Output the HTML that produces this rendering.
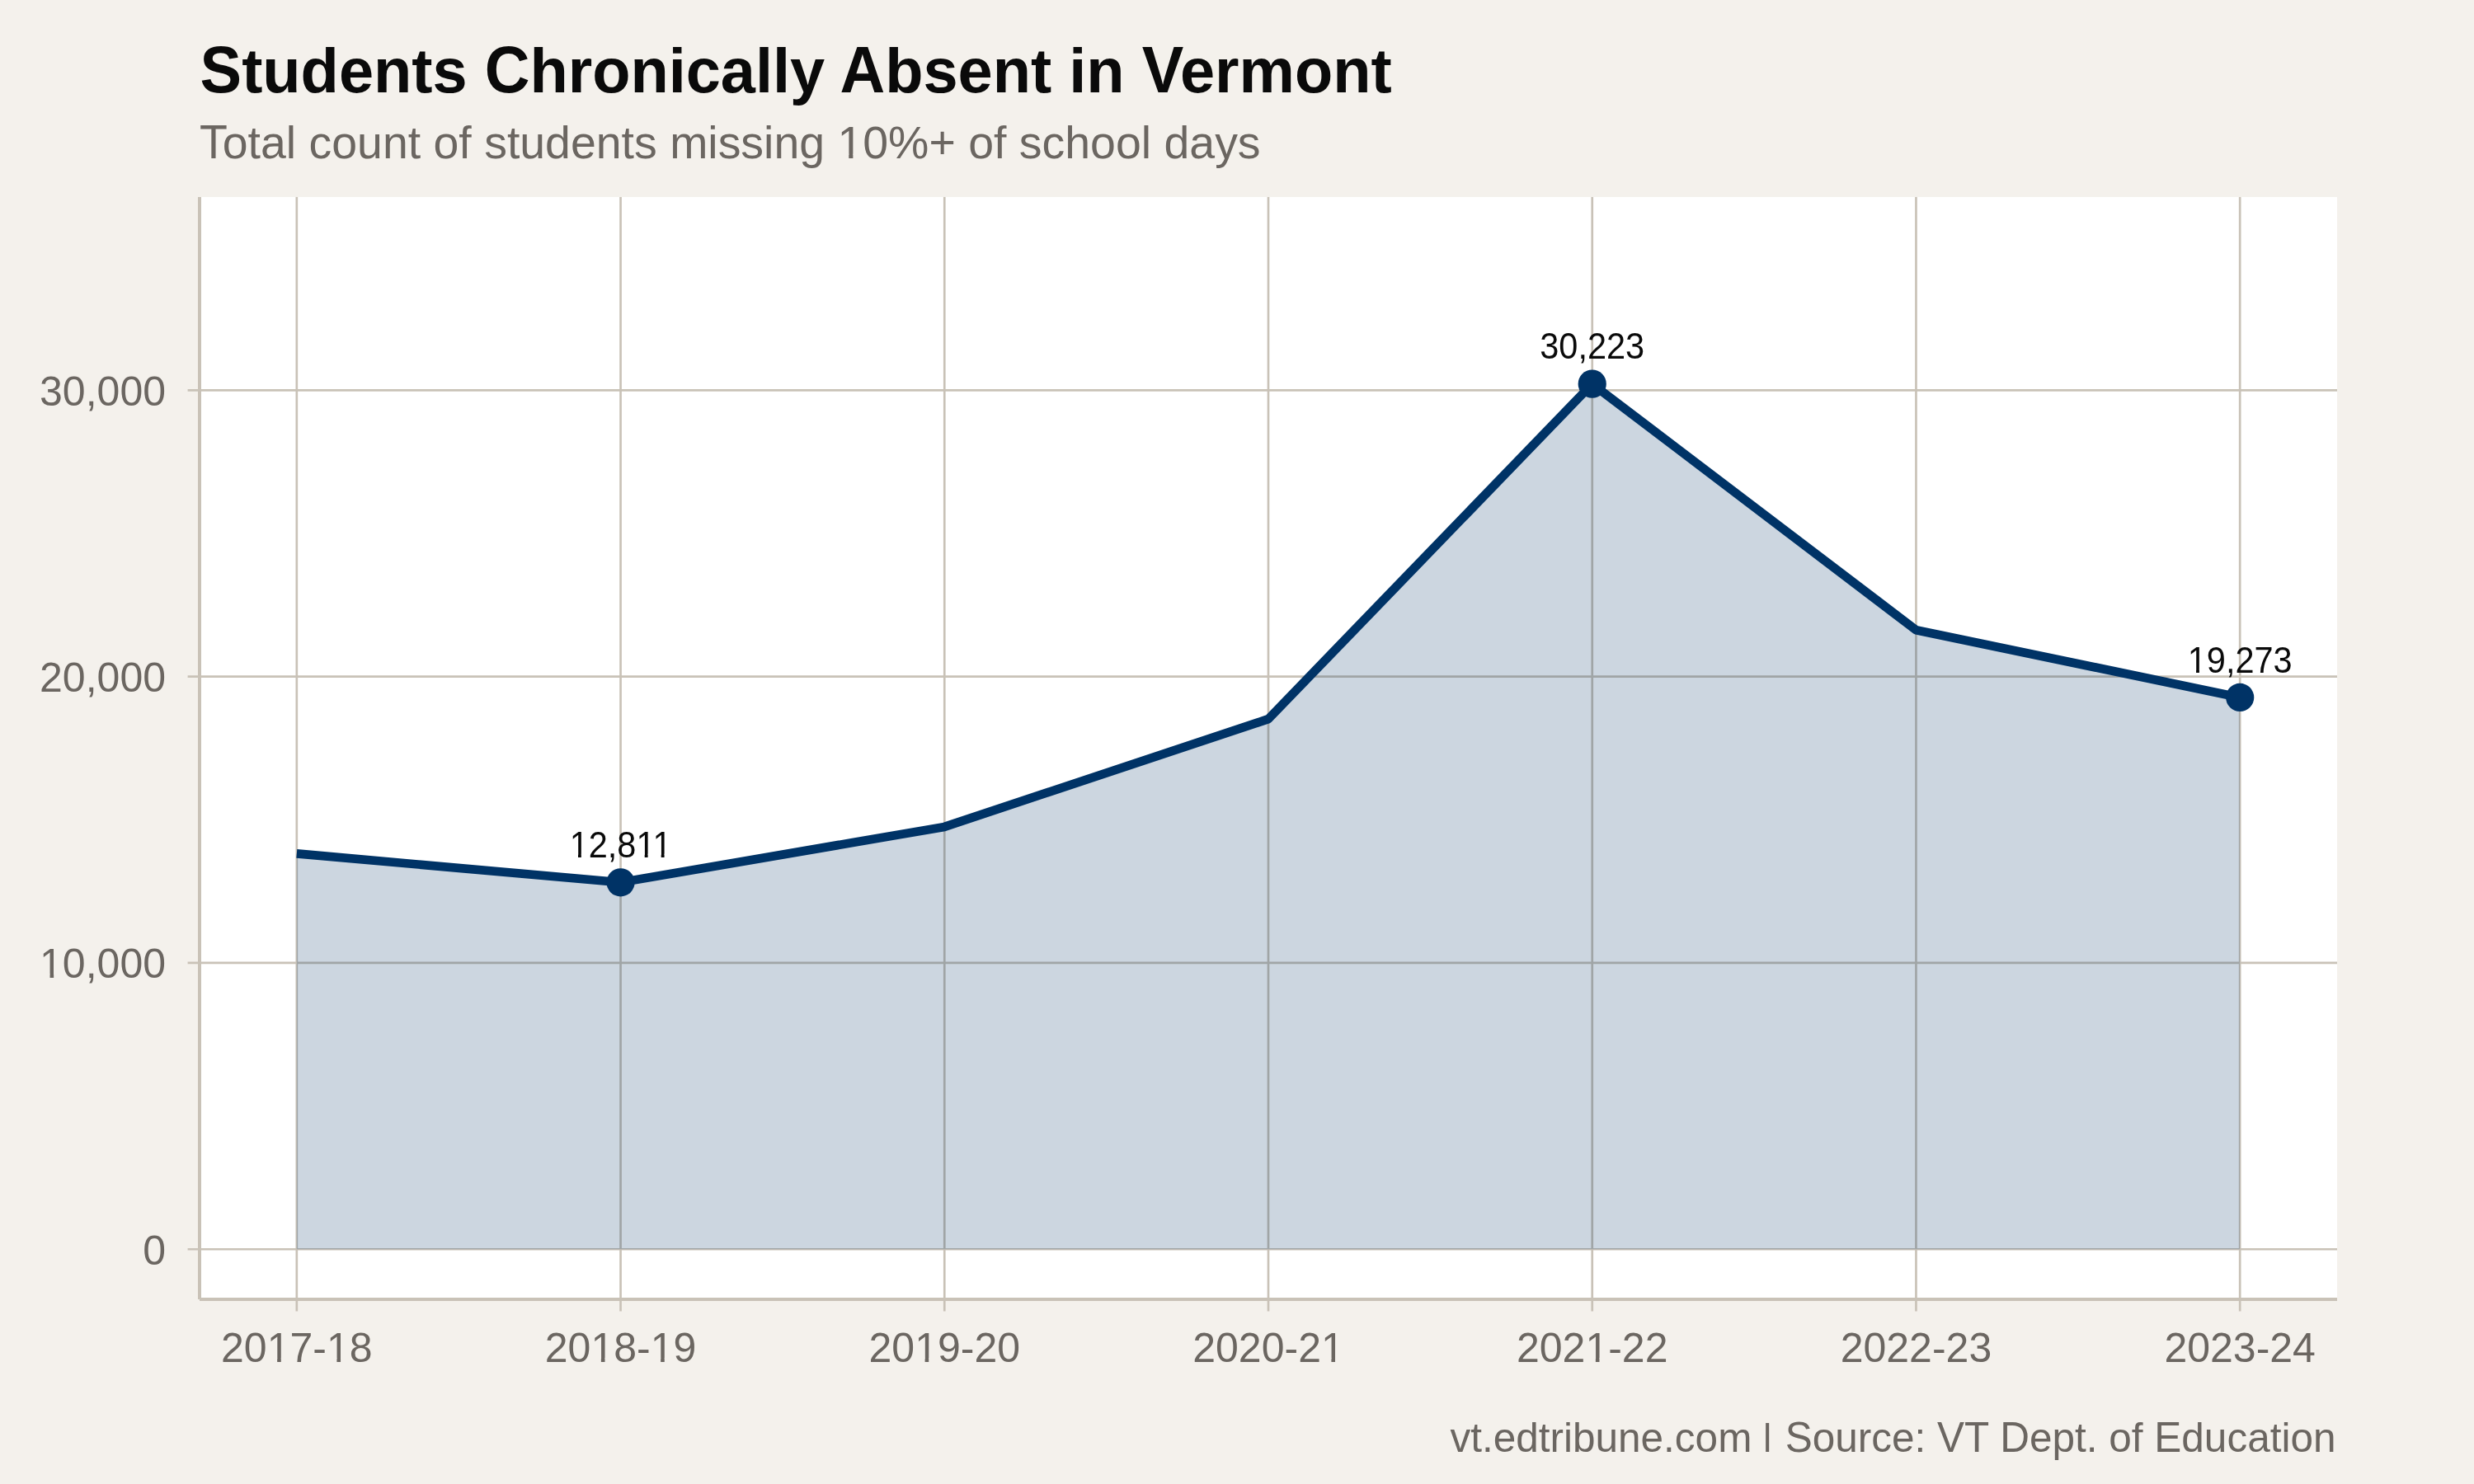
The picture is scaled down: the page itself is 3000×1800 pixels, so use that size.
<!DOCTYPE html>
<html><head><meta charset="utf-8"><title>Students Chronically Absent in Vermont</title>
<style>
html,body{margin:0;padding:0;background:#f4f1ec;width:3000px;height:1800px;overflow:hidden;position:relative}
svg{display:block;position:absolute;left:0;top:0;will-change:transform}
text{font-family:"Liberation Sans", Arial, Helvetica, sans-serif;white-space:pre}
</style></head><body>
<svg width="3000" height="1800" viewBox="0 0 3000 1800">
<defs>
<clipPath id="c_sub" clipPathUnits="userSpaceOnUse"><path clip-rule="evenodd" d="M-10000 -10000H10000V10000H-10000Z M1018.46 186.76H1029.28V193.30H1018.46Z M1034.38 186.76H1044.77V193.30H1034.38Z"/></clipPath>
<clipPath id="c_a1" clipPathUnits="userSpaceOnUse"><path clip-rule="evenodd" d="M-10000 -10000H10000V10000H-10000Z M-59.95 -4.00H-51.58V1.50H-59.95Z M-47.71 -4.00H-39.66V1.50H-47.71Z M20.79 -4.00H29.17V1.50H20.79Z M33.04 -4.00H41.09V1.50H33.04Z M40.78 -4.00H49.15V1.50H40.78Z M53.02 -4.00H61.07V1.50H53.02Z"/></clipPath>
<clipPath id="c_a6" clipPathUnits="userSpaceOnUse"><path clip-rule="evenodd" d="M-10000 -10000H10000V10000H-10000Z M-61.49 -4.00H-53.12V1.50H-61.49Z M-49.25 -4.00H-41.20V1.50H-49.25Z"/></clipPath>
<clipPath id="c_y10000" clipPathUnits="userSpaceOnUse"><path clip-rule="evenodd" d="M-10000 -10000H10000V10000H-10000Z M50.67 1181.61H60.54V1187.75H50.67Z M65.15 1181.61H74.63V1187.75H65.15Z"/></clipPath>
<clipPath id="c_x0" clipPathUnits="userSpaceOnUse"><path clip-rule="evenodd" d="M-10000 -10000H10000V10000H-10000Z M326.29 1647.26H336.15V1653.40H326.29Z M340.77 1647.26H350.25V1653.40H340.77Z M398.55 1647.26H408.42V1653.40H398.55Z M413.04 1647.26H422.51V1653.40H413.04Z"/></clipPath>
<clipPath id="c_x1" clipPathUnits="userSpaceOnUse"><path clip-rule="evenodd" d="M-10000 -10000H10000V10000H-10000Z M719.02 1647.26H728.88V1653.40H719.02Z M733.50 1647.26H742.98V1653.40H733.50Z M791.28 1647.26H801.15V1653.40H791.28Z M805.77 1647.26H815.24V1653.40H805.77Z"/></clipPath>
<clipPath id="c_x2" clipPathUnits="userSpaceOnUse"><path clip-rule="evenodd" d="M-10000 -10000H10000V10000H-10000Z M1111.74 1647.26H1121.60V1653.40H1111.74Z M1126.22 1647.26H1135.70V1653.40H1126.22Z"/></clipPath>
<clipPath id="c_x3" clipPathUnits="userSpaceOnUse"><path clip-rule="evenodd" d="M-10000 -10000H10000V10000H-10000Z M1604.55 1647.26H1614.41V1653.40H1604.55Z M1619.03 1647.26H1628.50V1653.40H1619.03Z"/></clipPath>
<clipPath id="c_x4" clipPathUnits="userSpaceOnUse"><path clip-rule="evenodd" d="M-10000 -10000H10000V10000H-10000Z M1925.01 1647.26H1934.88V1653.40H1925.01Z M1939.49 1647.26H1948.97V1653.40H1939.49Z"/></clipPath>
</defs>
<rect x="0" y="0" width="3000" height="1800" fill="#f4f1ec"/>
<rect x="242.0" y="239.0" width="2592.0" height="1337.0" fill="#ffffff"/>
<line x1="227.60" y1="1515.23" x2="2834.0" y2="1515.23" stroke="#c9c2b7" stroke-width="2.67"/>
<line x1="227.60" y1="1167.95" x2="2834.0" y2="1167.95" stroke="#c9c2b7" stroke-width="2.67"/>
<line x1="227.60" y1="820.68" x2="2834.0" y2="820.68" stroke="#c9c2b7" stroke-width="2.67"/>
<line x1="227.60" y1="473.41" x2="2834.0" y2="473.41" stroke="#c9c2b7" stroke-width="2.67"/>
<line x1="359.82" y1="239.0" x2="359.82" y2="1590.50" stroke="#c9c2b7" stroke-width="2.67"/>
<line x1="752.55" y1="239.0" x2="752.55" y2="1590.50" stroke="#c9c2b7" stroke-width="2.67"/>
<line x1="1145.27" y1="239.0" x2="1145.27" y2="1590.50" stroke="#c9c2b7" stroke-width="2.67"/>
<line x1="1538.00" y1="239.0" x2="1538.00" y2="1590.50" stroke="#c9c2b7" stroke-width="2.67"/>
<line x1="1930.73" y1="239.0" x2="1930.73" y2="1590.50" stroke="#c9c2b7" stroke-width="2.67"/>
<line x1="2323.45" y1="239.0" x2="2323.45" y2="1590.50" stroke="#c9c2b7" stroke-width="2.67"/>
<line x1="2716.18" y1="239.0" x2="2716.18" y2="1590.50" stroke="#c9c2b7" stroke-width="2.67"/>
<polygon points="359.82,1515.23 359.82,1035.40 752.55,1070.30 1145.27,1002.90 1538.00,872.10 1930.73,465.66 2323.45,764.20 2716.18,845.93 2716.18,1515.23" fill="#003366" fill-opacity="0.2"/>
<line x1="242.0" y1="239.0" x2="242.0" y2="1576.0" stroke="#c9c2b7" stroke-width="4"/>
<line x1="242.0" y1="1576.0" x2="2834.0" y2="1576.0" stroke="#c9c2b7" stroke-width="4"/>
<polyline points="359.82,1035.40 752.55,1070.30 1145.27,1002.90 1538.00,872.10 1930.73,465.66 2323.45,764.20 2716.18,845.93" fill="none" stroke="#003366" stroke-width="10.67" stroke-linejoin="round" stroke-linecap="butt"/>
<circle cx="752.55" cy="1070.30" r="17.1" fill="#003366"/>
<circle cx="1930.73" cy="465.66" r="17.1" fill="#003366"/>
<circle cx="2716.18" cy="845.93" r="17.1" fill="#003366"/>
<g>
<text x="242.6" y="111.8" font-size="75.76" font-weight="bold" fill="#0a0a0a"><tspan font-size="78.94" textLength="50.531" lengthAdjust="spacingAndGlyphs">S</tspan>tudents <tspan font-size="78.94" textLength="54.711" lengthAdjust="spacingAndGlyphs">C</tspan>hronically <tspan font-size="78.94" textLength="54.711" lengthAdjust="spacingAndGlyphs" dx="-2.81">A</tspan>bsent in <tspan font-size="78.94" textLength="50.531" lengthAdjust="spacingAndGlyphs">V</tspan><tspan dx="-4.18">ermont</tspan></text>
<text id="sub" clip-path="url(#c_sub)" x="242.0" y="191.8" font-size="55.45" fill="#6b6661"><tspan font-size="58.00" textLength="33.871" lengthAdjust="spacingAndGlyphs">T</tspan><tspan dx="-6.15">otal count of students missing 10%+ of school days</tspan></text>
<text id="a1" clip-path="url(#c_a1)" transform="translate(752.55 1040.10) scale(1 1.06)" text-anchor="middle" font-size="41.5" fill="#0a0a0a">12,811</text>
<text id="a4" transform="translate(1930.73 435.46) scale(1 1.06)" text-anchor="middle" font-size="41.5" fill="#0a0a0a">30,223</text>
<text id="a6" clip-path="url(#c_a6)" transform="translate(2716.18 815.73) scale(1 1.06)" text-anchor="middle" font-size="41.5" fill="#0a0a0a">19,273</text>
<text id="y0" x="201" y="1533.53" text-anchor="end" font-size="50" fill="#6b6661">0</text>
<text id="y10000" clip-path="url(#c_y10000)" x="201" y="1186.25" text-anchor="end" font-size="50" fill="#6b6661">10,000</text>
<text id="y20000" x="201" y="838.98" text-anchor="end" font-size="50" fill="#6b6661">20,000</text>
<text id="y30000" x="201" y="491.71" text-anchor="end" font-size="50" fill="#6b6661">30,000</text>
<text id="x0" clip-path="url(#c_x0)" x="359.82" y="1651.9" text-anchor="middle" font-size="50" fill="#6b6661">2017-18</text>
<text id="x1" clip-path="url(#c_x1)" x="752.55" y="1651.9" text-anchor="middle" font-size="50" fill="#6b6661">2018-19</text>
<text id="x2" clip-path="url(#c_x2)" x="1145.27" y="1651.9" text-anchor="middle" font-size="50" fill="#6b6661">2019-20</text>
<text id="x3" clip-path="url(#c_x3)" x="1538.00" y="1651.9" text-anchor="middle" font-size="50" fill="#6b6661">2020-21</text>
<text id="x4" clip-path="url(#c_x4)" x="1930.73" y="1651.9" text-anchor="middle" font-size="50" fill="#6b6661">2021-22</text>
<text id="x5" x="2323.45" y="1651.9" text-anchor="middle" font-size="50" fill="#6b6661">2022-23</text>
<text id="x6" x="2716.18" y="1651.9" text-anchor="middle" font-size="50" fill="#6b6661">2023-24</text>
<text x="2832.5" y="1761.2" text-anchor="end" font-size="49.5" fill="#6b6661">vt.edtribune.com <tspan font-size="37.16" textLength="12.858" lengthAdjust="spacingAndGlyphs" dx="-1.3" dy="-8.27">|</tspan><tspan dx="1.3" dy="8.27"> </tspan><tspan font-size="51.18" textLength="33.016" lengthAdjust="spacingAndGlyphs">S</tspan>ource: <tspan font-size="51.18" textLength="33.016" lengthAdjust="spacingAndGlyphs">V</tspan><tspan font-size="51.18" textLength="30.237" lengthAdjust="spacingAndGlyphs">T</tspan><tspan dx="-0.89"> </tspan><tspan font-size="51.18" textLength="35.747" lengthAdjust="spacingAndGlyphs">D</tspan>ept. of <tspan font-size="51.18" textLength="33.016" lengthAdjust="spacingAndGlyphs">E</tspan>ducation</text>
</g>
</svg>
</body></html>
